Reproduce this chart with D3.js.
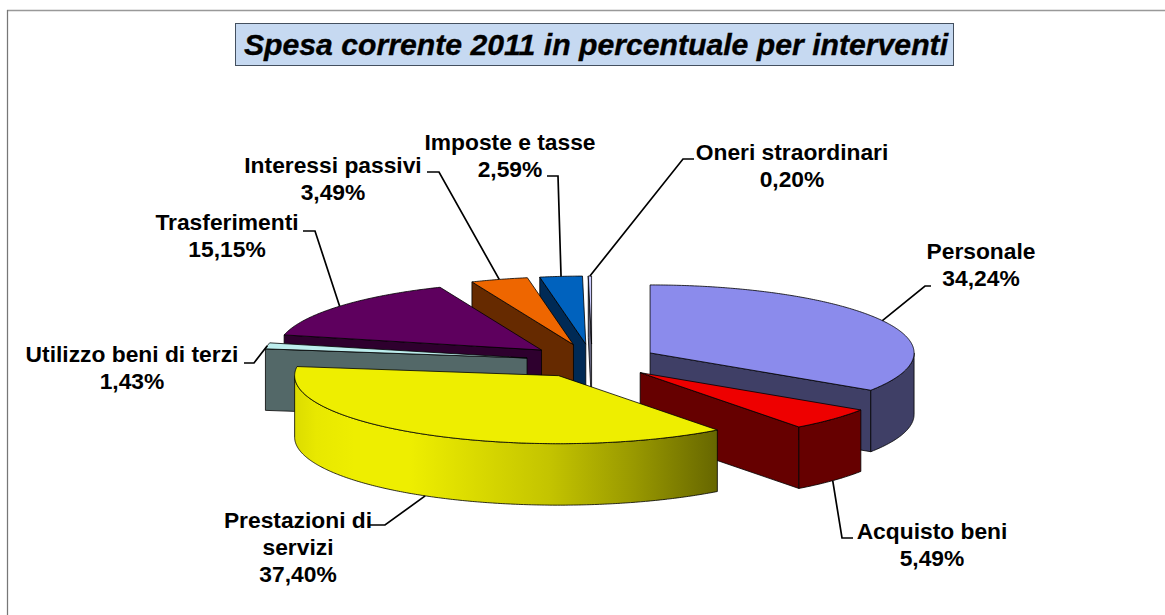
<!DOCTYPE html>
<html>
<head>
<meta charset="utf-8">
<script src="https://cdn.jsdelivr.net/npm/d3@7/dist/d3.min.js"></script>
<style>
html,body{margin:0;padding:0;background:#fff;overflow:hidden}
text{font-family:"Liberation Sans",Arial,sans-serif;font-weight:bold;fill:#000}
</style>
</head>
<body>
<svg id="chart" width="1165" height="615"></svg>
<script>
const titleText = "Spesa corrente 2011 in percentuale per interventi";
const categories = ["Personale","Acquisto beni","Prestazioni di servizi","Utilizzo beni di terzi","Trasferimenti","Interessi passivi","Imposte e tasse","Oneri straordinari"];
const labelLines = [["Personale"],["Acquisto beni"],["Prestazioni di","servizi"],["Utilizzo beni di terzi"],["Trasferimenti"],["Interessi passivi"],["Imposte e tasse"],["Oneri straordinari"]];
const values = [34.24,5.49,37.40,1.43,15.15,3.49,2.59,0.20];
const valueLabels = ["34,24%","5,49%","37,40%","1,43%","15,15%","3,49%","2,59%","0,20%"];
const topColors  = ["#8B8BEC","#EE0000","#EEEE00","#BEEEEE","#5E005E","#EE6600","#0062BE","#CCCCFF"];
const sideColors = ["#3F3F66","#660000","#EEEE00","#536868","#2E002E","#662A00","#002A55","#66667F"];
// label placement: centre x, first-line centre y, elbow, leader end
const labelCentreX = [981,932,298,132,227,333,510,792];
const labelFirstY  = [251,531,520,354,222,165,142,152];
const elbowPts = [[925,286],[842,538],[385,525],[254,363],[315,231],[439,172],[558,176],[683,159]];
const leaderEnds = [[931,286],[853,538],[370,525],[244,363],[303,231],[427,172],[547,176],[694,159]];
const drawOrder = [7,6,5,4,3,0,1,2];

const width = 1165, height = 615;
const cx = 592, cy = 361, rx = 264, ry = 68, depth = 61.5, explode = 0.25;
const TAU = 2*Math.PI;
const sx = d3.scaleLinear().domain([-1,1]).range([cx-rx,cx+rx]);
const sy = d3.scaleLinear().domain([-1,1]).range([cy-ry,cy+ry]);
const slices = d3.pie().sort(null).value(d=>d).startAngle(0).endAngle(TAU)(values);
const svg = d3.select("#chart");

const defs = svg.append("defs");
const grad = defs.append("linearGradient").attr("id","yellowSide")
  .attr("gradientUnits","userSpaceOnUse").attr("x1",295).attr("x2",718).attr("y1",0).attr("y2",0);
[[0,"#DCDC00"],[0.05,"#E8E800"],[0.14,"#EEEE00"],[0.27,"#EEEE00"],[0.6,"#C4C400"],[0.8,"#999900"],[1,"#666600"]]
  .forEach(s=>grad.append("stop").attr("offset",s[0]).attr("stop-color",s[1]));

// frame
svg.append("line").attr("x1",7).attr("x2",width).attr("y1",10.5).attr("y2",10.5).attr("stroke","#999").attr("stroke-width",1.5);
svg.append("line").attr("x1",7.5).attr("x2",7.5).attr("y1",10).attr("y2",height).attr("stroke","#777").attr("stroke-width",1.25);

// title
svg.append("rect").attr("x",235.5).attr("y",23.5).attr("width",718).attr("height",42)
  .attr("fill","#C6D9F1").attr("stroke","#44505f").attr("stroke-width",1);
svg.append("text").attr("x",596).attr("y",55).attr("text-anchor","middle")
  .attr("font-size",30.2).attr("font-style","italic").attr("stroke","#000").attr("stroke-width",0.35).text(titleText);

const lineGen = d3.line().x(p=>p[0]).y(p=>p[1]);
function apex(s){
  const mid=(s.startAngle+s.endAngle)/2;
  return [explode*Math.sin(mid), -explode*Math.cos(mid)];
}
function pt(s,a,r,drop){
  const o=apex(s);
  return [sx(o[0]+r*Math.sin(a)), sy(o[1]-r*Math.cos(a))+(drop||0)];
}
function arcPts(s,a0,a1,drop){
  const n=Math.max(2,Math.ceil(Math.abs(a1-a0)/0.01));
  return d3.range(n+1).map(i=>pt(s,a0+(a1-a0)*i/n,1,drop));
}
const strokeAttrs = sel=>sel.attr("stroke","#000").attr("stroke-width",0.8).attr("stroke-linejoin","round");

drawOrder.forEach(i=>{
  const s=slices[i], g=svg.append("g").attr("class","slice").attr("data-name",categories[i]);
  const radialWall = a=>{
    const pts=[pt(s,a,0,0),pt(s,a,1,0),pt(s,a,1,depth),pt(s,a,0,depth)];
    g.append("path").attr("d",lineGen(pts)+"Z").attr("fill",sideColors[i]).call(strokeAttrs);
  };
  if(s.startAngle>Math.PI) radialWall(s.startAngle);
  if(s.endAngle<Math.PI) radialWall(s.endAngle);
  const a0=Math.max(s.startAngle,Math.PI/2), a1=Math.min(s.endAngle,1.5*Math.PI);
  if(a1>a0){
    const pts=arcPts(s,a0,a1,0).concat(arcPts(s,a1,a0,depth));
    g.append("path").attr("d",lineGen(pts)+"Z")
      .attr("fill",i===2?"url(#yellowSide)":sideColors[i]).call(strokeAttrs);
  }
  const top=[pt(s,0,0,0)].concat(arcPts(s,s.startAngle,s.endAngle,0));
  g.append("path").attr("d",lineGen(top)+"Z").attr("fill",topColors[i]).call(strokeAttrs);
});

// leaders and labels
const fs=22.8, lh=27;
slices.forEach((s,i)=>{
  const mid=(s.startAngle+s.endAngle)/2;
  const front=Math.cos(mid)<0;
  const a=pt(s,mid,1,front?depth:0);
  svg.append("path").attr("d",lineGen([a,elbowPts[i],leaderEnds[i]]))
    .attr("fill","none").attr("stroke","#000").attr("stroke-width",1.7);
  const lines=labelLines[i].concat([valueLabels[i]]);
  const t=svg.append("text").attr("text-anchor","middle").attr("font-size",fs);
  lines.forEach((l,k)=>{
    t.append("tspan").attr("x",labelCentreX[i]).attr("y",labelFirstY[i]+k*lh+8).text(l);
  });
});
</script>
</body>
</html>
